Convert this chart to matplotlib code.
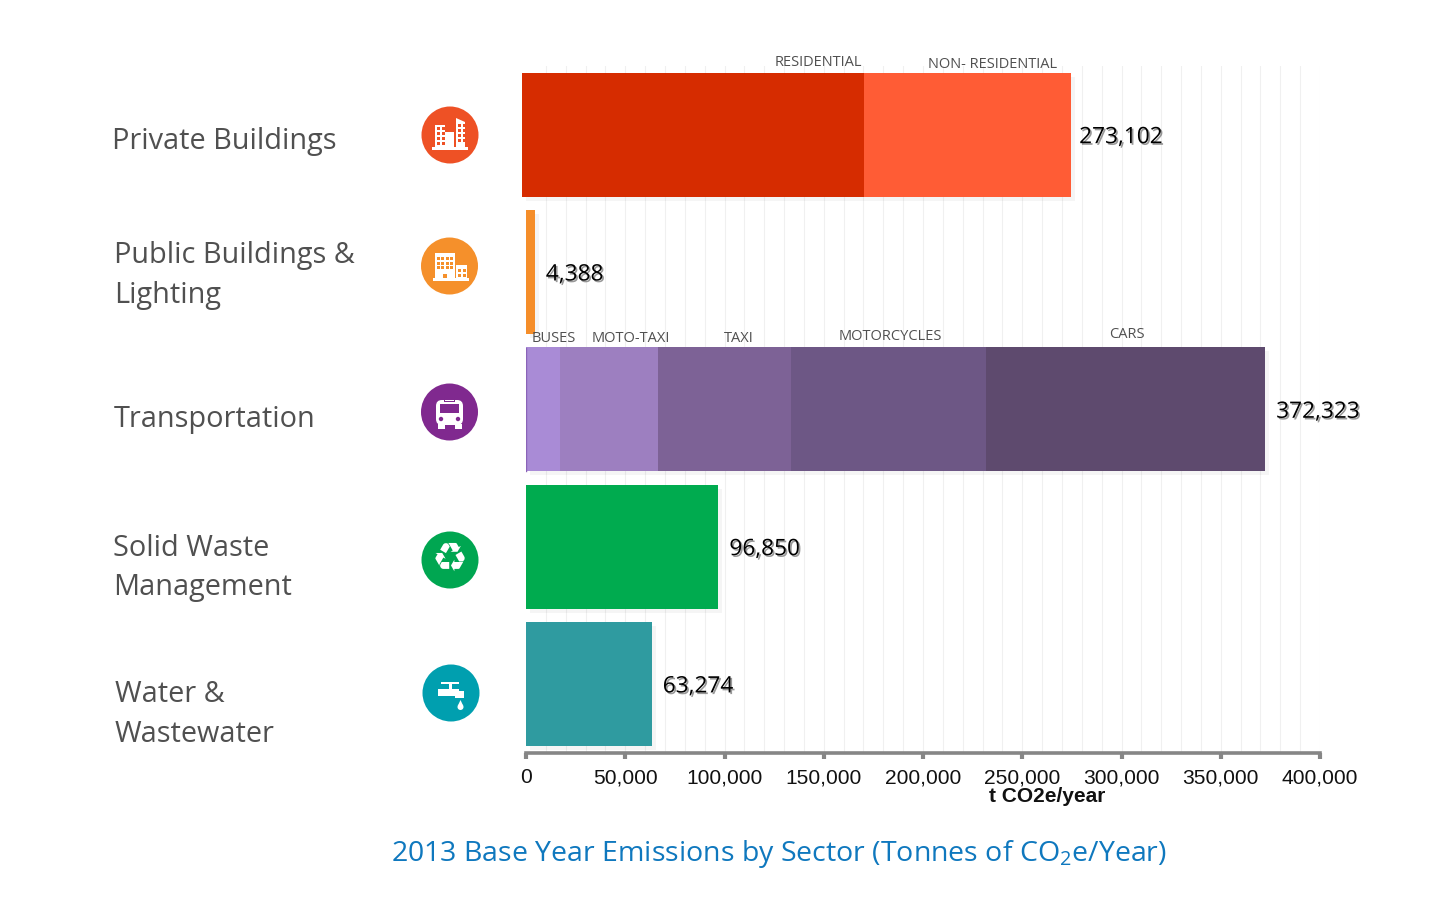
#!/usr/bin/env python3

import matplotlib
matplotlib.use("Agg")
import matplotlib.pyplot as plt
import matplotlib.patheffects as pe
from matplotlib.patches import Circle, Polygon, Rectangle, FancyBboxPatch

sector_labels = ["Private Buildings", "Public Buildings &\nLighting", "Transportation",
                 "Solid Waste\nManagement", "Water &\nWastewater"]
sector_totals = [273102, 4388, 372323, 96850, 63274]
tick_values = [0, 50000, 100000, 150000, 200000, 250000, 300000, 350000, 400000]

private_left = -2000
private_parts = [172300, 104300]
private_names = ["RESIDENTIAL", "NON- RESIDENTIAL"]
private_colors = ["#D62C00", "#FF5C35"]

public_value = [4388]
transport_parts = [17130, 49370, 67000, 98240, 140583]
transport_names = ["BUSES", "MOTO-TAXI", "TAXI", "MOTORCYCLES", "CARS"]
transport_colors = ["#A98BD6", "#9D7FC0", "#7D6296", "#6D5785", "#5E4A6E"]
waste_value = [96850]
water_value = [63274]

W, H = 1448, 919
plt.rcParams["font.family"] = ["Open Sans", "DejaVu Sans"]
plt.rcParams["mathtext.fontset"] = "custom"
plt.rcParams["mathtext.rm"] = "Open Sans"

fig = plt.figure(figsize=(W / 100, H / 100), dpi=100, facecolor="white")

ax = fig.add_axes([526 / W, 1 - 753 / H, (1320 - 526) / W, (753 - 66) / H])
ax.set_xlim(0, 400000)
ax.set_ylim(4.503, -0.5)
ax.patch.set_alpha(0)
ax.set_zorder(2)

bar_shadow = [pe.SimplePatchShadow(offset=(3, -3), shadow_rgbFace="#000000", alpha=0.04), pe.Normal()]


def stacked(y, parts, colors, left=0):
    for value, color in zip(parts, colors):
        ax.barh(y, value, 0.903, left=left, color=color, zorder=3, clip_on=False,
                path_effects=bar_shadow, linewidth=0)
        left += value
    return left


stacked(0, private_parts, private_colors, left=private_left)
stacked(1, public_value, ["#F58E2A"])
stacked(2, transport_parts, transport_colors)
stacked(3, waste_value, ["#00AB4F"])
stacked(4, water_value, ["#2F9BA0"])

# thin dark edge on the left of the first transport bar
ax.axvline(0, ymin=(4.503 - 2.45) / 5.003, ymax=(4.503 - 1.55) / 5.003, color="#8A63B8", lw=1, zorder=4)

for v in range(10000, 400001, 10000):
    ax.axvline(v, color="#F0F0F0", lw=0.75, zorder=1)

ax.spines[["top", "left", "right"]].set_visible(False)
ax.spines["bottom"].set_color("#868686")
ax.spines["bottom"].set_linewidth(2.6)
ax.set_yticks([])
ax.set_xticks(tick_values, labels=[f"{v:,}" for v in tick_values],
              family="Liberation Sans", fontsize=15.1, color="#111111")
ax.tick_params(axis="x", length=4, width=3, color="#868686", pad=7)

value_shadow = [pe.SimplePatchShadow(offset=(1.2, -1.2), shadow_rgbFace="#555555", alpha=0.6), pe.Normal()]
bar_ends = [sum(private_parts) + private_left, public_value[0], sum(transport_parts), waste_value[0], water_value[0]]
value_dx = [5.8, 8, 8, 8, 8]
for i, (end, total) in enumerate(zip(bar_ends, sector_totals)):
    ax.annotate(f"{total:,}", xy=(end, i), xytext=(value_dx[i], -1.8), textcoords="offset points",
                va="center", ha="left", fontsize=16.3, color="black", zorder=6,
                path_effects=value_shadow)

# everything outside the chart area, in pixel coordinates of the picture
ov = fig.add_axes([0, 0, 1, 1])
ov.set_xlim(0, W)
ov.set_ylim(H, 0)
ov.axis("off")
ov.set_zorder(3)
ov.patch.set_alpha(0)

label_pos = [(112, 141), (114, 276), (114, 419), (113, 568), (115, 715)]
for text, (x, y) in zip(sector_labels, label_pos):
    ov.text(x, y, text, fontsize=20.8, color="#505050", va="center", ha="left", linespacing=1.5)

sub_pos = [(818, 63), (993, 65)]
for text, (x, y) in zip(private_names, sub_pos):
    ov.text(x, y, text, fontsize=10.5, color="#505050", ha="center", va="center")
sub_pos = [(554, 338), (631, 338), (739, 338), (890, 337), (1127, 334)]
for text, (x, y) in zip(transport_names, sub_pos):
    ov.text(x, y, text, fontsize=10.5, color="#505050", ha="center", va="center")

ov.text(1047, 797, "t CO2e/year", family="Liberation Sans", fontweight="bold", fontsize=15,
        color="#111111", ha="center", va="center")
ov.text(779, 854, "2013 Base Year Emissions by Sector (Tonnes of CO$_{2}$e/Year)",
        fontsize=20.5, color="#0F78BE", ha="center", va="center")


def box(x, y, w, h, color="white"):
    ov.add_patch(Rectangle((x, y), w, h, fc=color, ec="none"))


def windows(x, y, cols, rows, color, size=3, gap=5):
    for c in range(cols):
        for r in range(rows):
            box(x + c * gap, y + r * gap, size, size, color)


# private buildings icon
c = "#EE5125"
ov.add_patch(Circle((450, 135), 28.5, fc=c, ec="none"))
box(435, 125, 10, 23)
windows(436.5, 127, 2, 4, c)
box(445, 132, 9, 16)
ov.add_patch(Polygon([(456, 118), (465, 122), (465, 148), (456, 148)], fc="white", ec="none"))
windows(457.5, 124, 2, 4, c)
box(432, 147, 36, 2.5)

# public buildings icon
c = "#F5902B"
ov.add_patch(Circle((449.5, 266), 28.5, fc=c, ec="none"))
box(435, 253, 20, 25)
windows(436.5, 257, 4, 3, c, size=3, gap=4.5)
box(456, 265, 11, 13)
windows(457.5, 269, 2, 2, c, size=3, gap=5)
box(433, 278, 36, 2.5)
box(443, 274, 4, 4, c)

# bus icon
c = "#80298F"
ov.add_patch(Circle((449.5, 412), 28.5, fc=c, ec="none"))
ov.add_patch(FancyBboxPatch((436, 400), 27, 25, boxstyle="round,pad=0,rounding_size=6", fc="white", ec="none"))
box(444, 399, 11, 3, c)
box(445, 399.5, 9, 1.5)
box(440, 404, 19, 9, c)
box(437.5, 424, 7, 5)
box(454.5, 424, 7, 5)
ov.add_patch(Circle((441, 419), 2.2, fc=c, ec="none"))
ov.add_patch(Circle((458, 419), 2.2, fc=c, ec="none"))

# recycling icon
ov.add_patch(Circle((450, 560), 28.5, fc="#00A651", ec="none"))
ov.text(450, 560, "\u267b", family="DejaVu Sans", fontsize=29, color="white", ha="center", va="center")

# tap icon
c = "#009FAF"
ov.add_patch(Circle((451, 693), 28.5, fc=c, ec="none"))
box(438, 689, 21, 7)
box(449, 683, 3, 7)
box(441, 682, 18, 2)
box(455, 691, 9, 7)
box(456, 696, 8, 2)
ov.add_patch(Polygon([(460.5, 700), (463.3, 706), (457.7, 706)], fc="white", ec="none"))
ov.add_patch(Circle((460.5, 707), 3, fc="white", ec="none"))

fig.savefig("out.png", dpi=100, facecolor="white")
